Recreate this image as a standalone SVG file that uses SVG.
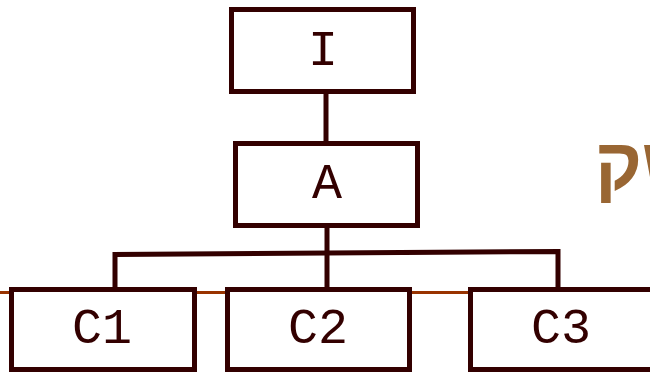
<svg xmlns="http://www.w3.org/2000/svg" width="650" height="373" viewBox="0 0 650 373">
  <style>
    .box { fill: #ffffff; stroke: #330000; stroke-width: 5; }
    .lbl { font-family: "Liberation Mono", "Courier New", monospace; font-size: 50px; fill: #330000; text-anchor: middle; }
    .wire { fill: none; stroke: #330000; stroke-width: 5; }
  </style>
  <rect width="650" height="373" fill="#ffffff"/>
  <!-- rule line behind the bottom row -->
  <line x1="0" y1="292.5" x2="650" y2="292.5" stroke="#993300" stroke-width="3"/>
  <!-- side heading, running off the right edge -->
  <text x="595" y="189" direction="rtl" text-anchor="end" font-family="Liberation Sans, Arial, sans-serif" font-weight="bold" font-size="72" fill="#996633">שק</text>
  <g id="connectors">
    <line class="wire" x1="326" y1="92" x2="326" y2="143"/>
    <line class="wire" x1="327" y1="226" x2="327" y2="289"/>
    <polyline class="wire" points="115,289 115,254.5 558,251.5 558,289"/>
  </g>
  <g id="node-I">
    <rect class="box" x="231.5" y="9.5" width="182" height="82"/>
    <text class="lbl" x="323" y="65">I</text>
  </g>
  <g id="node-A">
    <rect class="box" x="235.5" y="143.5" width="182" height="82"/>
    <text class="lbl" x="327" y="198">A</text>
  </g>
  <g id="node-C1">
    <rect class="box" x="11.5" y="289.5" width="183" height="80"/>
    <text class="lbl" x="102" y="343">C1</text>
  </g>
  <g id="node-C2">
    <rect class="box" x="227.5" y="289.5" width="182" height="80"/>
    <text class="lbl" x="318" y="343">C2</text>
  </g>
  <g id="node-C3">
    <rect class="box" x="470.5" y="289.5" width="200" height="80"/>
    <text class="lbl" x="561" y="343">C3</text>
  </g>
</svg>
